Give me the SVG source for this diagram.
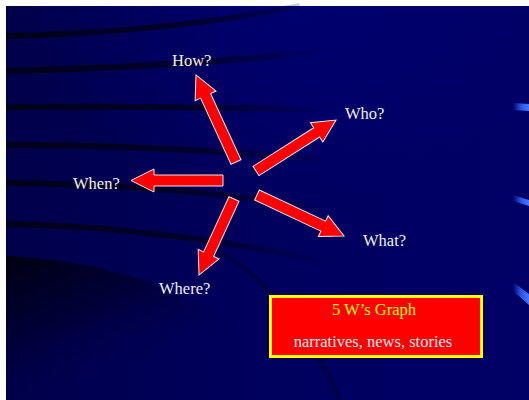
<svg xmlns="http://www.w3.org/2000/svg" width="529" height="400" viewBox="0 0 529 400">
  <defs>
    <linearGradient id="bg" x1="0" y1="0" x2="1" y2="0">
      <stop offset="0" stop-color="#00004a"/>
      <stop offset="0.5" stop-color="#00005e"/>
      <stop offset="1" stop-color="#000066"/>
    </linearGradient>
    <radialGradient id="glow" cx="0.55" cy="0" r="0.5">
      <stop offset="0" stop-color="#000080" stop-opacity="0.5"/>
      <stop offset="1" stop-color="#000080" stop-opacity="0"/>
    </radialGradient>
    <linearGradient id="fade" gradientUnits="userSpaceOnUse" x1="6" y1="0" x2="330" y2="0">
      <stop offset="0" stop-color="#00001a" stop-opacity="1"/>
      <stop offset="0.6" stop-color="#00001a" stop-opacity="0.7"/>
      <stop offset="1" stop-color="#00001a" stop-opacity="0"/>
    </linearGradient>
    <linearGradient id="dark" gradientUnits="userSpaceOnUse" x1="0" y1="256" x2="60" y2="400">
      <stop offset="0" stop-color="#000010"/>
      <stop offset="0.5" stop-color="#000030" stop-opacity="0.8"/>
      <stop offset="1" stop-color="#000050" stop-opacity="0"/>
    </linearGradient>
    <linearGradient id="blue" x1="0" y1="0" x2="1" y2="0">
      <stop offset="0" stop-color="#000070"/>
      <stop offset="0.5" stop-color="#2a55e0"/>
      <stop offset="1" stop-color="#4477ff"/>
    </linearGradient>
    <style>
      .stripe { fill: none; stroke: url(#fade); stroke-width: 6; }
      .arrow { fill: #ff0000; stroke: #e8e8f0; stroke-width: 1; stroke-linejoin: miter; }
      .lbl { font-family: "Liberation Serif", "Times New Roman", serif; font-size: 16.5px; fill: #f0f0f4; }
    </style>
  </defs>

  <g id="background">
    <rect x="0" y="0" width="529" height="400" fill="#ffffff"/>
    <rect x="6" y="6" width="523" height="394" fill="url(#bg)"/>
    <rect x="6" y="6" width="523" height="394" fill="url(#glow)"/>
    <path class="stripe" d="M6,36 C100,34 200,26 300,6"/>
    <path class="stripe" d="M6,71 C100,69 200,64 320,52"/>
    <path class="stripe" d="M6,107 C120,106 220,107 320,110"/>
    <path class="stripe" d="M6,145 C120,145 220,150 320,160"/>
    <path class="stripe" d="M6,183 C120,184 220,192 320,208"/>
    <path class="stripe" d="M6,224 C120,226 220,240 330,262"/>
    <path d="M6,256 C130,262 230,300 310,400 L6,400 Z" fill="url(#dark)"/>
    <path d="M215,250 C265,275 310,330 340,400" fill="none" stroke="#00001a" stroke-opacity="0.35" stroke-width="5"/>
    <polygon points="513,103 529,104 529,111 513,110" fill="url(#blue)"/>
    <polygon points="513,195 529,200 529,206 513,201" fill="url(#blue)"/>
    <polygon points="513,282 529,294 529,305 513,291" fill="url(#blue)"/>
  </g>

  <g id="connectors">
    <polygon class="arrow" transform="translate(236,162) rotate(-114.7)" points="0,-5.5 72.8,-5.5 72.8,-11.5 95.8,0 72.8,11.5 72.8,5.5 0,5.5"/>
    <polygon class="arrow" transform="translate(256,171) rotate(-32.5)" points="0,-5.5 71.9,-5.5 71.9,-11.5 94.9,0 71.9,11.5 71.9,5.5 0,5.5"/>
    <polygon class="arrow" transform="translate(223,180.5) rotate(180)" points="0,-5.5 69,-5.5 69,-11.5 92,0 69,11.5 69,5.5 0,5.5"/>
    <polygon class="arrow" transform="translate(257,195) rotate(25.2)" points="0,-5.5 73.2,-5.5 73.2,-11.5 96.2,0 73.2,11.5 73.2,5.5 0,5.5"/>
    <polygon class="arrow" transform="translate(234,199) rotate(114.7)" points="0,-5.5 60.7,-5.5 60.7,-11.5 83.7,0 60.7,11.5 60.7,5.5 0,5.5"/>
  </g>

  <g id="how"><text class="lbl" x="172" y="66">How?</text></g>
  <g id="who"><text class="lbl" x="345" y="119">Who?</text></g>
  <g id="when"><text class="lbl" x="73" y="189">When?</text></g>
  <g id="what"><text class="lbl" x="363" y="246">What?</text></g>
  <g id="where"><text class="lbl" x="159" y="294">Where?</text></g>

  <g id="legend">
    <rect x="270.5" y="296.5" width="211" height="60" fill="#ff0000" stroke="#ffff00" stroke-width="3"/>
    <text class="lbl" x="374" y="315" text-anchor="middle" style="fill:#ffff00">5 W’s Graph</text>
    <text class="lbl" x="373" y="347" text-anchor="middle">narratives, news, stories</text>
  </g>
</svg>
